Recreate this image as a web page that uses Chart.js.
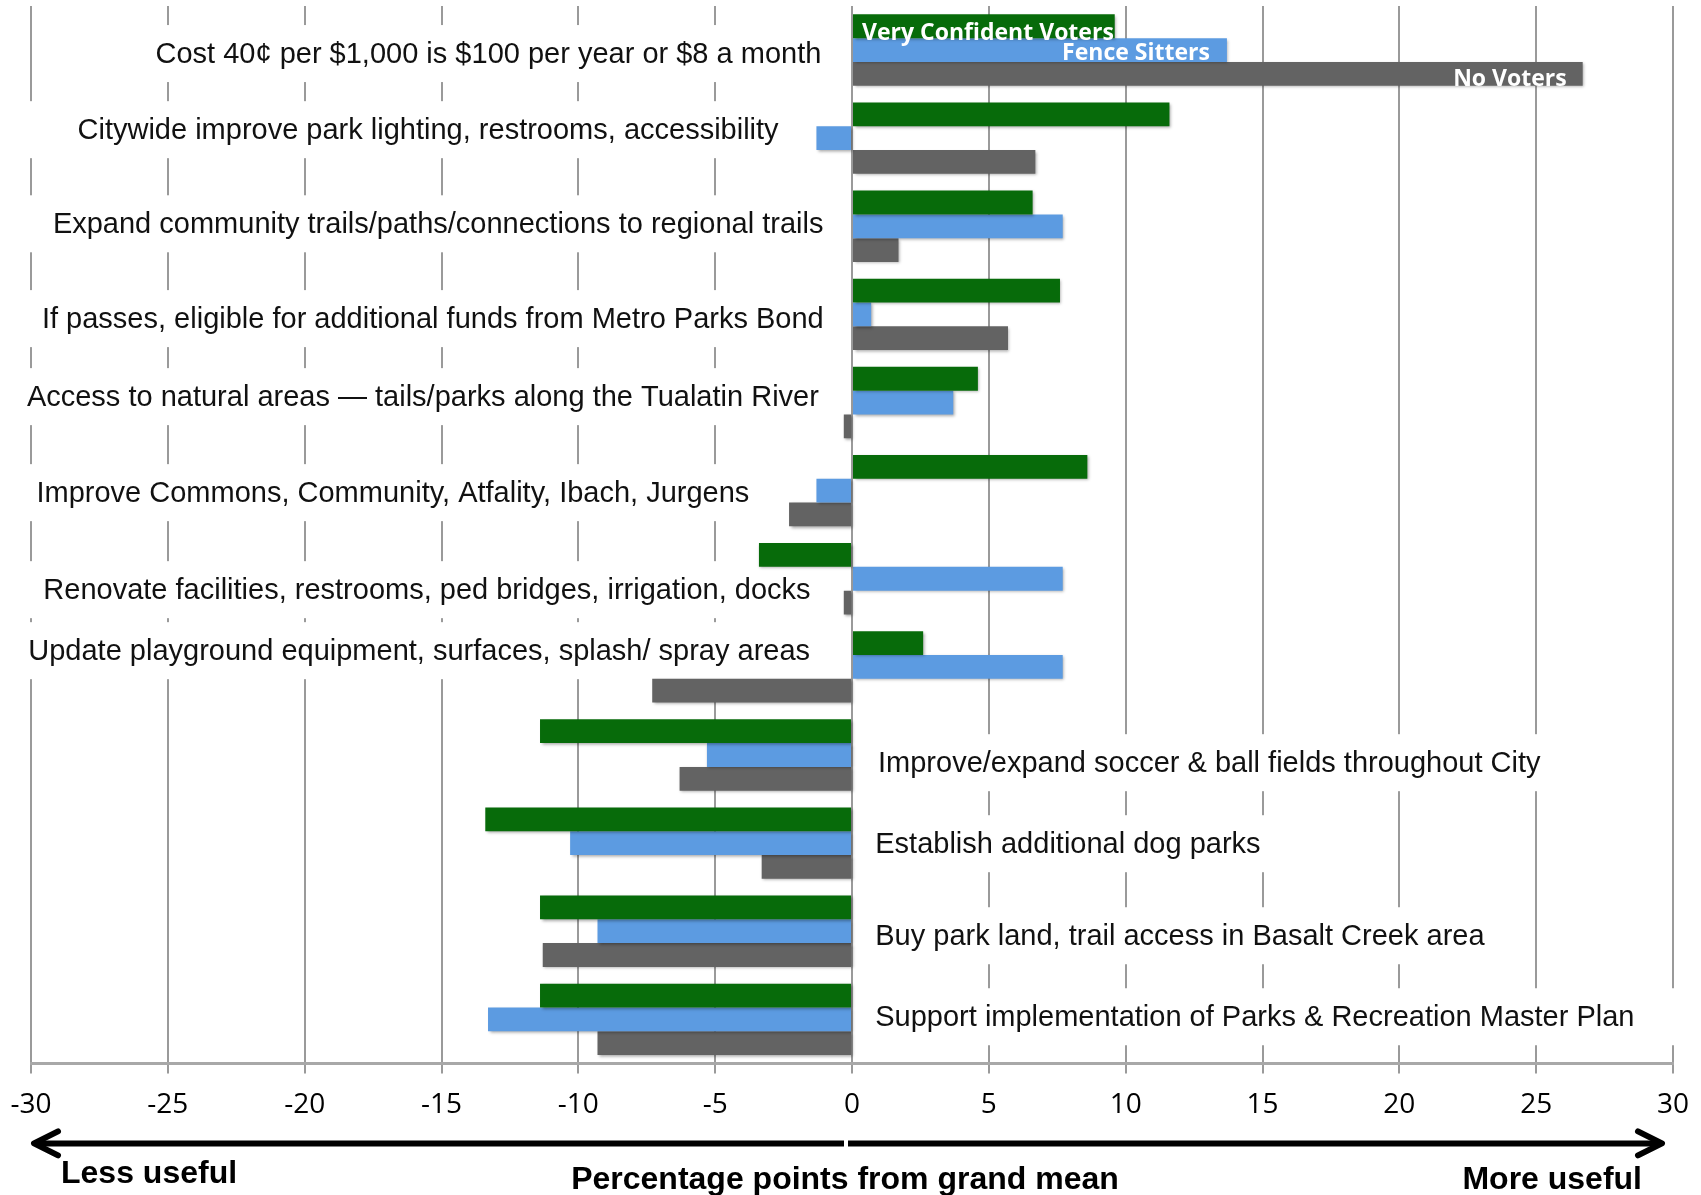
<!DOCTYPE html>
<html>
<head>
<meta charset="utf-8">
<title>Usefulness of bond statements by voter group</title>
<script src="https://cdn.jsdelivr.net/npm/chart.js@4.4.1/dist/chart.umd.min.js"></script>
<style>
  html, body { margin: 0; padding: 0; background: #fff; }
</style>
</head>
<body>
<canvas id="usefulChart" width="1701" height="1195"></canvas>
<script>
// Statements, top to bottom as they appear on the chart
var categories = [
    "Cost 40\u00a2 per $1,000 is $100 per year or $8 a month",
    "Citywide improve park lighting, restrooms, accessibility",
    "Expand community trails/paths/connections to regional trails",
    "If passes, eligible for additional funds from Metro Parks Bond",
    "Access to natural areas \u2014 tails/parks along the Tualatin River",
    "Improve Commons, Community, Atfality, Ibach, Jurgens",
    "Renovate facilities, restrooms, ped bridges, irrigation, docks",
    "Update playground equipment, surfaces, splash/ spray areas",
    "Improve/expand soccer & ball fields throughout City",
    "Establish additional dog parks",
    "Buy park land, trail access in Basalt Creek area",
    "Support implementation of Parks & Recreation Master Plan"
];

// Percentage points from grand mean, one value per statement
var confidentVoters = [9.6, 11.6, 6.6, 7.6, 4.6, 8.6, -3.4, 2.6, -11.4, -13.4, -11.4, -11.4];
var fenceSitters = [13.7, -1.3, 7.7, 0.7, 3.7, -1.3, 7.7, 7.7, -5.3, -10.3, -9.3, -13.3];
var noVoters = [26.7, 6.7, 1.7, 5.7, -0.3, -2.3, -0.3, -7.3, -6.3, -3.3, -11.3, -9.3];

var seriesNames = ["Very Confident Voters", "Fence Sitters", "No Voters"];
var xTicks = [-30, -25, -20, -15, -10, -5, 0, 5, 10, 15, 20, 25, 30];

var GREEN = "#076b0a";
var BLUE = "#5c9be1";
var GREY = "#636363";

// Draws the statement text boxes inside the plot, plus bar shadows
var statementPlugin = {
    id: "statements",
    beforeDatasetsDraw: function (chart, args, opts) {
        var ctx = chart.ctx;
        var xs = chart.scales.x;
        var ys = chart.scales.y;
        ctx.save();
        ctx.font = '29px "Liberation Sans", Arial, sans-serif';
        ctx.textAlign = "left";
        ctx.textBaseline = "alphabetic";
        categories.forEach(function (text, i) {
            var left = xs.getPixelForValue(opts.textStart[i]);
            var base = ys.getPixelForValue(i) + opts.baselineShift[i];
            var w = ctx.measureText(text).width;
            var onLeft = opts.textStart[i] < 0;
            var padL = onLeft ? 50 : 12;
            var padR = onLeft ? 12 : 50;
            ctx.fillStyle = "#fff";
            ctx.fillRect(left - padL, base - 38, w + padL + padR, 57);
            ctx.fillStyle = "#111";
            ctx.fillText(text, left, base);
        });
        ctx.restore();

        // soft drop shadow on the bars
        ctx.save();
        ctx.shadowColor = "rgba(0,0,0,0.35)";
        ctx.shadowBlur = 3;
        ctx.shadowOffsetX = 1.5;
        ctx.shadowOffsetY = 1.5;
    },
    afterDatasetsDraw: function (chart) {
        var ctx = chart.ctx;
        ctx.restore();

        // series names written inside the first group of bars
        var g = chart.getDatasetMeta(0).data[0];
        var b = chart.getDatasetMeta(1).data[0];
        var k = chart.getDatasetMeta(2).data[0];
        ctx.save();
        ctx.font = 'bold 23px "Open Sans", Lato, sans-serif';
        ctx.fillStyle = "#fff";
        ctx.textBaseline = "alphabetic";
        ctx.textAlign = "left";
        ctx.fillText(seriesNames[0], g.base + 9, g.y + g.height / 2 + 2);
        ctx.textAlign = "right";
        ctx.fillText(seriesNames[1], b.x - 17, b.y + b.height / 2 - 1.5);
        ctx.fillText(seriesNames[2], k.x - 16, k.y + k.height / 2);
        ctx.restore();
    },
    afterDraw: function (chart) {
        var ctx = chart.ctx;
        var area = chart.chartArea;
        var ay = area.bottom + 80;
        var left = area.left + 3;
        var right = area.right - 11;
        var mid = chart.scales.x.getPixelForValue(0) - 6;

        ctx.save();
        ctx.strokeStyle = "#000";
        ctx.lineWidth = 6;
        ctx.lineCap = "butt";
        ctx.beginPath();
        ctx.moveTo(left + 3, ay);
        ctx.lineTo(mid - 2, ay);
        ctx.stroke();
        ctx.beginPath();
        ctx.moveTo(mid + 2, ay);
        ctx.lineTo(right - 3, ay);
        ctx.stroke();

        // arrow heads
        ctx.lineJoin = "round";
        ctx.lineCap = "round";
        ctx.beginPath();
        ctx.moveTo(left + 24, ay - 12);
        ctx.lineTo(left, ay);
        ctx.lineTo(left + 24, ay + 12);
        ctx.stroke();
        ctx.beginPath();
        ctx.moveTo(right - 24, ay - 12);
        ctx.lineTo(right, ay);
        ctx.lineTo(right - 24, ay + 12);
        ctx.stroke();

        ctx.fillStyle = "#000";
        ctx.font = 'bold 32px "Liberation Sans", Arial, sans-serif';
        ctx.textBaseline = "alphabetic";
        ctx.textAlign = "left";
        ctx.fillText("Less useful", left + 27, ay + 40);
        ctx.textAlign = "center";
        ctx.fillText("Percentage points from grand mean", mid - 1, ay + 46);
        ctx.textAlign = "right";
        ctx.fillText("More useful", right - 20, ay + 46);
        ctx.restore();
    }
};

var ctx = document.getElementById("usefulChart").getContext("2d");
var usefulChart = new Chart(ctx, {
    type: "bar",
    data: {
        labels: categories,
        datasets: [
            { label: seriesNames[0], data: confidentVoters, backgroundColor: GREEN },
            { label: seriesNames[1], data: fenceSitters, backgroundColor: BLUE },
            { label: seriesNames[2], data: noVoters, backgroundColor: GREY }
        ]
    },
    options: {
        indexAxis: "y",
        responsive: false,
        animation: false,
        categoryPercentage: 0.81,
        barPercentage: 1.0,
        layout: {
            padding: { top: 6, left: 31, right: 28, bottom: 58 }
        },
        plugins: {
            legend: { display: false },
            tooltip: { enabled: false },
            statements: {
                // where each statement's text begins, in axis units
                textStart: [-25.45, -28.3, -29.2, -29.6, -30.15, -29.8, -29.55, -30.1, 0.95, 0.85, 0.85, 0.85],
                // baseline offset from the category centre, px
                baselineShift: [13, 1, 7, 13.7, 3.6, 11.5, 20.4, -6.7, 17.2, 10.1, 14, 6.9]
            }
        },
        scales: {
            x: {
                type: "linear",
                min: -30,
                max: 30,
                afterBuildTicks: function (axis) {
                    axis.ticks = xTicks.map(function (v) { return { value: v }; });
                },
                afterFit: function (axis) {
                    // let the layout padding alone decide the plot width
                    axis.paddingLeft = 0;
                    axis.paddingRight = 0;
                },
                grid: {
                    color: "#9a9a9a",
                    lineWidth: 2,
                    tickLength: 10,
                    tickColor: "#9a9a9a"
                },
                border: { display: true, color: "#a8a8a8", width: 3 },
                ticks: {
                    color: "#000",
                    padding: 15,
                    maxRotation: 0,
                    font: { family: '"Open Sans", sans-serif', size: 28 }
                }
            },
            y: {
                display: false,
                grid: { display: false }
            }
        }
    },
    plugins: [statementPlugin]
});
</script>
</body>
</html>
